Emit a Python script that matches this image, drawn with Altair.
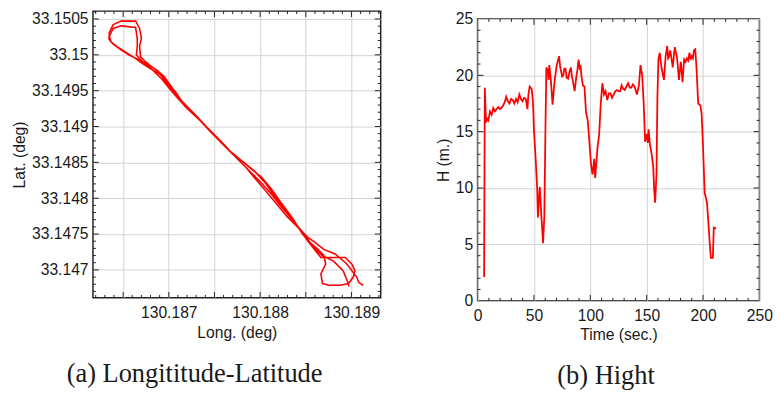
import altair as alt
import pandas as pd

# ---------------- data: (a) track ----------------
lon = [130.189127, 130.189081, 130.189057, 130.188950, 130.188825, 130.188697, 130.188590, 130.188526,
       130.188398, 130.188291, 130.188185, 130.188078, 130.187950, 130.187843, 130.187715, 130.187587,
       130.187459, 130.187309, 130.187181, 130.187075, 130.186979, 130.186883, 130.186797, 130.186744,
       130.186691, 130.186680, 130.186701, 130.186680, 130.186637, 130.186477, 130.186392, 130.186349,
       130.186346, 130.186392, 130.186477, 130.186562, 130.186648, 130.186776,
       130.186861, 130.186947, 130.187032, 130.187139, 130.187288, 130.187438, 130.187566, 130.187694,
       130.187822, 130.187939, 130.188057, 130.188163, 130.188291, 130.188419, 130.188526, 130.188611,
       130.188665, 130.188825, 130.188932, 130.189003, 130.189038, 130.189020, 130.188967, 130.188878,
       130.188753, 130.188683, 130.188665, 130.188718, 130.188697,
       130.188633, 130.188547, 130.188462, 130.188355, 130.188227, 130.188121, 130.187993, 130.187886,
       130.187758, 130.187630, 130.187480, 130.187331, 130.187203, 130.187096, 130.187011, 130.186925,
       130.186861, 130.186797, 130.186712,
       130.186645, 130.186655, 130.186655, 130.186637, 130.186477, 130.186392, 130.186349, 130.186370,
       130.186456, 130.186541, 130.186627, 130.186712,
       130.186797, 130.186904, 130.186989, 130.187075, 130.187160, 130.187267, 130.187395, 130.187523,
       130.187651, 130.187779, 130.187907, 130.188014, 130.188121, 130.188227, 130.188355, 130.188462,
       130.188569, 130.188676, 130.188804, 130.188910, 130.188953, 130.188974]
lat = [33.146786, 33.146823, 33.146900, 33.147082, 33.147218, 33.147286, 33.147395, 33.147450,
       33.147613, 33.147750, 33.147913, 33.148077, 33.148268, 33.148431, 33.148595, 33.148772,
       33.148936, 33.149127, 33.149277, 33.149440, 33.149604, 33.149768, 33.149850, 33.149904,
       33.149972, 33.150122, 33.150231, 33.150368, 33.150473, 33.150470, 33.150422, 33.150313,
       33.150218, 33.150149, 33.150068, 33.149999, 33.149945, 33.149863,
       33.149795, 33.149700, 33.149550, 33.149359, 33.149168, 33.148963, 33.148786, 33.148622,
       33.148500, 33.148377, 33.148213, 33.148022, 33.147804, 33.147586, 33.147395, 33.147259,
       33.147173, 33.147173, 33.147173, 33.147082, 33.146990, 33.146900, 33.146809, 33.146786,
       33.146786, 33.146809, 33.146945, 33.147082, 33.147204,
       33.147286, 33.147382, 33.147532, 33.147695, 33.147886, 33.148063, 33.148241, 33.148377,
       33.148541, 33.148704, 33.148895, 33.149100, 33.149250, 33.149400, 33.149522, 33.149659,
       33.149740, 33.149822, 33.149904,
       33.149999, 33.150122, 33.150222, 33.150381, 33.150404, 33.150368, 33.150259, 33.150177,
       33.150095, 33.150027, 33.149959, 33.149877,
       33.149809, 33.149727, 33.149604, 33.149481, 33.149318, 33.149181, 33.149018, 33.148854,
       33.148677, 33.148541, 33.148404, 33.148295, 33.148131, 33.147941, 33.147722, 33.147504,
       33.147341, 33.147204, 33.147122, 33.146986, 33.146850, 33.146768]

# ---------------- data: (b) height ----------------
time_s = [5.8, 6.4, 7.5, 8.1, 9.5, 11.0, 12.5, 13.9, 15.3, 16.8, 18.2, 19.7, 21.0, 22.5, 24.0, 25.4,
          26.8, 28.3, 29.8, 31.2, 32.6, 34.1, 35.5, 37.0, 38.5, 39.9, 41.3, 42.8, 44.2, 45.0, 46.2, 48.0,
          49.1, 50.0, 51.4, 52.9, 53.5, 55.2, 56.4, 58.1, 59.2, 60.1, 61.0, 62.4, 63.0, 63.6, 65.0, 66.5,
          68.2, 70.2, 72.3, 73.2, 74.0, 75.0, 76.0, 77.0, 78.0, 79.0, 80.3, 81.5, 82.7, 83.7, 84.7, 86.1,
          87.6, 88.6, 89.6, 90.5, 91.3, 92.3, 93.4, 94.8, 96.2, 97.7, 99.1, 100.6, 102.0, 103.5, 104.3,
          106.4, 107.8, 109.2, 110.7, 112.1, 113.5, 115.0, 116.5, 117.9, 119.3, 120.8, 122.2, 123.7,
          125.0, 126.6, 127.7, 129.2, 130.6, 132.0, 133.5, 135.0, 136.4, 137.8, 139.3, 141.3, 143.1,
          144.5, 146.0, 147.4, 148.6, 150.3, 151.0, 151.7, 152.9, 154.3, 155.8, 156.6, 157.5, 158.7,
          159.5, 160.4, 161.6, 162.5, 163.3, 165.3, 166.8, 168.2, 169.0, 169.7, 170.8, 171.7, 173.1,
          174.9, 176.9, 178.6, 180.3, 181.8, 183.2, 184.5, 185.5, 186.8, 187.9, 189.0, 189.9, 191.0,
          191.9, 193.1, 194.2, 195.7, 197.7, 198.8, 200.0, 201.4, 203.5, 205.8, 206.9, 208.7, 209.5, 211.6]
height_m = [2.1, 18.9, 15.8, 16.2, 16.0, 16.8, 16.5, 17.1, 16.8, 17.0, 17.2, 17.0, 17.1, 17.3, 17.6, 18.1,
            17.7, 17.5, 17.9, 17.8, 17.5, 17.9, 17.6, 18.3, 17.9, 17.7, 18.0, 17.9, 17.0, 18.2, 19.0, 18.8,
            17.7, 15.1, 12.8, 9.9, 7.4, 10.1, 7.8, 5.1, 7.5, 14.5, 20.7, 20.4, 19.6, 20.9, 19.6, 17.4,
            19.4, 20.9, 21.7, 20.8, 20.4, 19.9, 20.0, 20.6, 20.6, 19.8, 19.7, 20.3, 20.7, 19.9, 19.4, 18.6,
            19.9, 20.5, 21.4, 20.7, 20.9, 19.8, 19.1, 19.0, 16.7, 16.0, 14.2, 12.1, 11.2, 12.6, 10.9,
            13.6, 14.7, 17.4, 19.3, 18.3, 18.6, 17.8, 18.4, 18.4, 18.0, 18.3, 18.6, 18.7,
            18.6, 18.6, 19.1, 18.8, 18.7, 19.0, 19.3, 18.9, 18.9, 19.2, 19.0, 18.3, 19.1,
            20.9, 20.0, 17.4, 14.1, 14.8, 14.0, 15.2, 13.8, 13.1, 11.9, 9.9, 8.7, 11.3,
            18.0, 21.4, 22.0, 21.2, 20.6, 19.6, 21.7, 22.6, 21.5, 21.6, 22.2, 21.7, 20.7,
            22.5, 21.6, 19.6, 21.2, 19.4, 21.4, 21.2, 21.5, 21.3, 22.0, 21.4, 21.7, 21.5,
            22.2, 22.3, 20.6, 17.5, 17.3, 16.5, 13.6, 9.6, 8.7, 5.3, 3.8, 3.8, 6.5, 6.4]

# ---------------- axis ticks ----------------
lon_major = [130.1865, 130.187, 130.1875, 130.188, 130.1885, 130.189]
lat_major = [33.147, 33.1475, 33.148, 33.1485, 33.149, 33.1495, 33.15, 33.1505]
lon_minor = [round(130.1862 + 0.0001 * i, 4) for i in range(32)]
lon_minor = [v for v in lon_minor if v not in lon_major]
lat_minor = [round(33.1467 + 0.0001 * i, 4) for i in range(40)]
lat_minor = [v for v in lat_minor if v not in lat_major]
t_labels = [0, 50, 100, 150, 200, 250]
h_labels = [0, 5, 10, 15, 20, 25]
t_major = [50, 100, 150, 200]
t_minor = [v for v in range(10, 250, 10) if v % 50]
h_major = [5, 10, 15, 20]
h_minor = [v for v in range(1, 25) if v % 5]

SANS = "Liberation Sans"
SERIF = "Liberation Serif"
TXT = "#1a1a1a"
FRAME = "#222222"
GRID = "#d2d2d2"


def axis(values, title, label_expr, label_pad, title_pad):
    return alt.Axis(values=values, title=title, labelExpr=label_expr, grid=True, gridColor=GRID,
                    gridWidth=1, ticks=False, domain=False, labelFont=SANS, labelFontSize=16,
                    labelColor=TXT, labelPadding=label_pad, labelFlush=False, labelOverlap=False,
                    titleFont=SANS, titleFontSize=16, titleFontWeight="normal", titleColor=TXT,
                    titlePadding=title_pad)


def ticks(xs_major, xs_minor, ys_major, ys_minor, xscale, yscale, xaxis, yaxis, w, h):
    layers = []
    for vals, size in ((xs_major, 6), (xs_minor, 3)):
        d = pd.DataFrame({"v": vals})
        for y0, y1 in ((h, h - size), (0, size)):
            layers.append(alt.Chart(d).mark_rule(color=FRAME, strokeWidth=1).encode(
                x=alt.X("v:Q", scale=xscale, axis=xaxis),
                y=alt.value(y0), y2=alt.value(y1)))
    for vals, size in ((ys_major, 6), (ys_minor, 3)):
        d = pd.DataFrame({"v": vals})
        for x0, x1 in ((0, size), (w, w - size)):
            layers.append(alt.Chart(d).mark_rule(color=FRAME, strokeWidth=1).encode(
                y=alt.Y("v:Q", scale=yscale, axis=yaxis),
                x=alt.value(x0), x2=alt.value(x1)))
    return layers


# ---------- panel (a) ----------
W1, H1 = 294, 293
xs1 = alt.Scale(domain=[130.18617, 130.18932], zero=False, nice=False)
ys1 = alt.Scale(domain=[33.14661, 33.15061], zero=False, nice=False)
xa1 = axis(lon_major, "Long. (deg)",
           "abs(datum.value*1000 - round(datum.value*1000)) < 0.01 ? format(datum.value, '.3f') : ''", 7, 5)
ya1 = axis(lat_major, "Lat. (deg)", "format(datum.value, '.4~f')", 5, 4)
track = pd.DataFrame({"i": range(len(lon)), "lon": lon, "lat": lat})
line1 = alt.Chart(track).mark_line(color="#ff0000", strokeWidth=1.6).encode(
    x=alt.X("lon:Q", scale=xs1, axis=xa1),
    y=alt.Y("lat:Q", scale=ys1, axis=ya1),
    order="i:Q")
panel_a = alt.layer(line1, *ticks(lon_major, lon_minor, lat_major, lat_minor, xs1, ys1, xa1, ya1, W1, H1)).properties(
    width=W1, height=H1,
    title=alt.TitleParams("(a) Longititude-Latitude", orient="bottom", anchor="middle", frame="bounds",
                          font=SERIF, fontSize=27, fontWeight="normal", color=TXT, offset=21, dx=-2))

# ---------- panel (b) ----------
W2, H2 = 288, 288
xs2 = alt.Scale(domain=[0, 250], nice=False)
ys2 = alt.Scale(domain=[0, 25], nice=False)
xa2 = axis(t_labels, "Time (sec.)", "datum.label", 7, 4)
ya2 = axis(h_labels, "H (m.)", "datum.label", 5, 4)
hdf = pd.DataFrame({"t": time_s, "h": height_m})
line2 = alt.Chart(hdf).mark_line(color="#ff0000", strokeWidth=1.8).encode(
    x=alt.X("t:Q", scale=xs2, axis=xa2),
    y=alt.Y("h:Q", scale=ys2, axis=ya2))
panel_b = alt.layer(line2, *ticks(t_major, t_minor, h_major, h_minor, xs2, ys2, xa2, ya2, W2, H2)).properties(
    width=W2, height=H2,
    title=alt.TitleParams("(b) Hight", orient="bottom", anchor="middle", frame="bounds",
                          font=SERIF, fontSize=27, fontWeight="normal", color=TXT, offset=21, dx=2))

# invisible spacer that lowers panel (b) a few pixels, as in the reference
spacer = alt.Chart(pd.DataFrame({"v": [0]})).mark_rule(strokeWidth=0, opacity=0).encode(
    x=alt.value(0), y=alt.value(0), y2=alt.value(1)
).properties(width=1, height=1, view=alt.ViewBackground(stroke=None))

right = alt.vconcat(spacer, panel_b, spacing=-2)

chart = alt.hconcat(panel_a, right, spacing=53).properties(
    padding={"left": 11, "top": 5, "right": 5, "bottom": 5},
    background="white",
).configure_view(stroke=FRAME, strokeWidth=1.5)

chart.save("out.html", embed_options={"renderer": "svg", "actions": False})
